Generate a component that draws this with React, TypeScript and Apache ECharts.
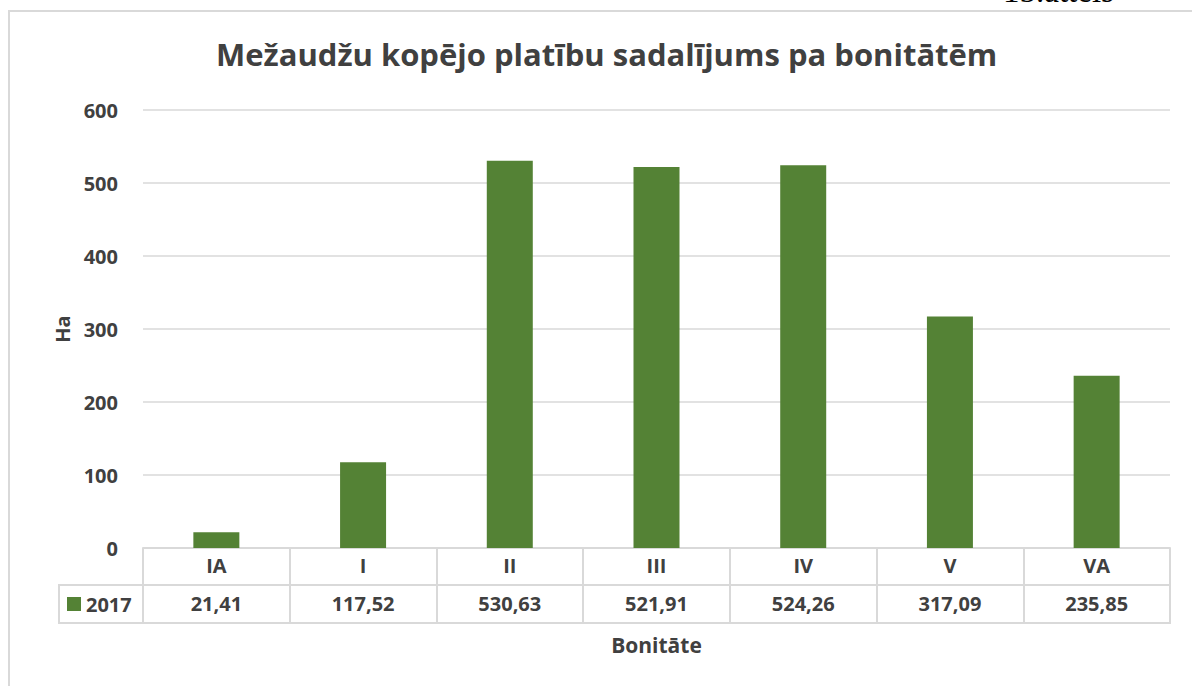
import React, { useEffect, useRef } from "react";
import * as echarts from "echarts";

const categories = ["IA", "I", "II", "III", "IV", "V", "VA"];
const seriesName = "2017";
const values = [21.41, 117.52, 530.63, 521.91, 524.26, 317.09, 235.85];
const yTicks = [0, 100, 200, 300, 400, 500, 600];
const titleText = "Mežaudžu kopējo platību sadalījums pa bonitātēm";
const yName = "Ha";
const xName = "Bonitāte";
const figureLabel = "15.attēls";

const GREEN = "#548235";
const GRID = "#d9d9d9";
const TEXT = "#404040";
const FONT = "'Open Sans', 'Noto Sans', sans-serif";

export default function App() {
  const ref = useRef<HTMLDivElement>(null);
  useEffect(() => {
    if (!ref.current) return;
    const chart = echarts.init(ref.current, null, { renderer: "svg" });
    const L = 143, R = 1170, T = 110, B = 548;
    const fmt = (v: number) => v.toFixed(2).replace(".", ",");
    chart.setOption({
      animation: false,
      backgroundColor: "#fff",
      title: {
        text: titleText,
        left: 211,
        top: 33,
        textStyle: { fontFamily: FONT, fontSize: 31, fontWeight: "bold", color: TEXT },
      },
      grid: { left: L, right: 1192 - R, top: T, bottom: 686 - B },
      xAxis: [
        {
          type: "category",
          data: categories,
          boundaryGap: true,
          axisLine: { show: true, lineStyle: { color: GRID, width: 2 } },
          axisTick: { show: true, length: 75, lineStyle: { color: GRID, width: 2 } },
          axisLabel: { margin: 7, fontFamily: FONT, fontSize: 20, fontWeight: "bold", color: TEXT },
          name: xName,
          nameLocation: "middle",
          nameGap: 86,
          nameTextStyle: { fontFamily: FONT, fontSize: 21, fontWeight: "bold", color: TEXT },
        },
        {
          type: "category",
          data: values.map(fmt),
          position: "bottom",
          offset: 36,
          axisLine: { show: false },
          axisTick: { show: false },
          axisLabel: { margin: 9, fontFamily: FONT, fontSize: 20, fontWeight: "bold", color: TEXT },
        },
      ],
      yAxis: {
        type: "value",
        min: yTicks[0],
        max: yTicks[yTicks.length - 1],
        interval: 100,
        axisLine: { show: false },
        axisTick: { show: false },
        splitLine: { lineStyle: { color: GRID, width: 1.5 } },
        axisLabel: { margin: 25, fontFamily: FONT, fontSize: 20, fontWeight: "bold", color: TEXT },
        name: yName,
        nameLocation: "middle",
        nameGap: 70,
        nameTextStyle: { fontFamily: FONT, fontSize: 20, fontWeight: "bold", color: TEXT },
      },
      series: [
        {
          name: seriesName,
          type: "bar",
          data: values,
          barWidth: 46,
          itemStyle: { color: GREEN },
        },
      ],
      graphic: [
        {
          type: "rect",
          shape: { x: 9, y: 11, width: 1300, height: 800 },
          style: { fill: "none", stroke: GRID, lineWidth: 2 },
          silent: true,
        },
        {
          type: "text",
          x: 1003,
          y: -26,
          style: { text: figureLabel, font: "33px 'Liberation Serif', serif", fill: "#000" },
        },
        { type: "line", shape: { x1: 58, y1: 585, x2: R + 1, y2: 585 }, style: { stroke: GRID, lineWidth: 2 } },
        { type: "line", shape: { x1: 58, y1: 623, x2: R + 1, y2: 623 }, style: { stroke: GRID, lineWidth: 2 } },
        { type: "line", shape: { x1: 59, y1: 584, x2: 59, y2: 624 }, style: { stroke: GRID, lineWidth: 2 } },
        { type: "rect", shape: { x: 67, y: 597, width: 14, height: 14 }, style: { fill: GREEN } },
        {
          type: "text",
          x: 86,
          y: 604,
          style: {
            text: seriesName,
            font: `bold 20px ${FONT}`,
            fill: TEXT,
            verticalAlign: "middle",
          },
        },
      ],
    });
    return () => chart.dispose();
  }, []);
  return <div ref={ref} style={{ position: "fixed", left: 0, top: 0, width: 1192, height: 686 }} />;
}
